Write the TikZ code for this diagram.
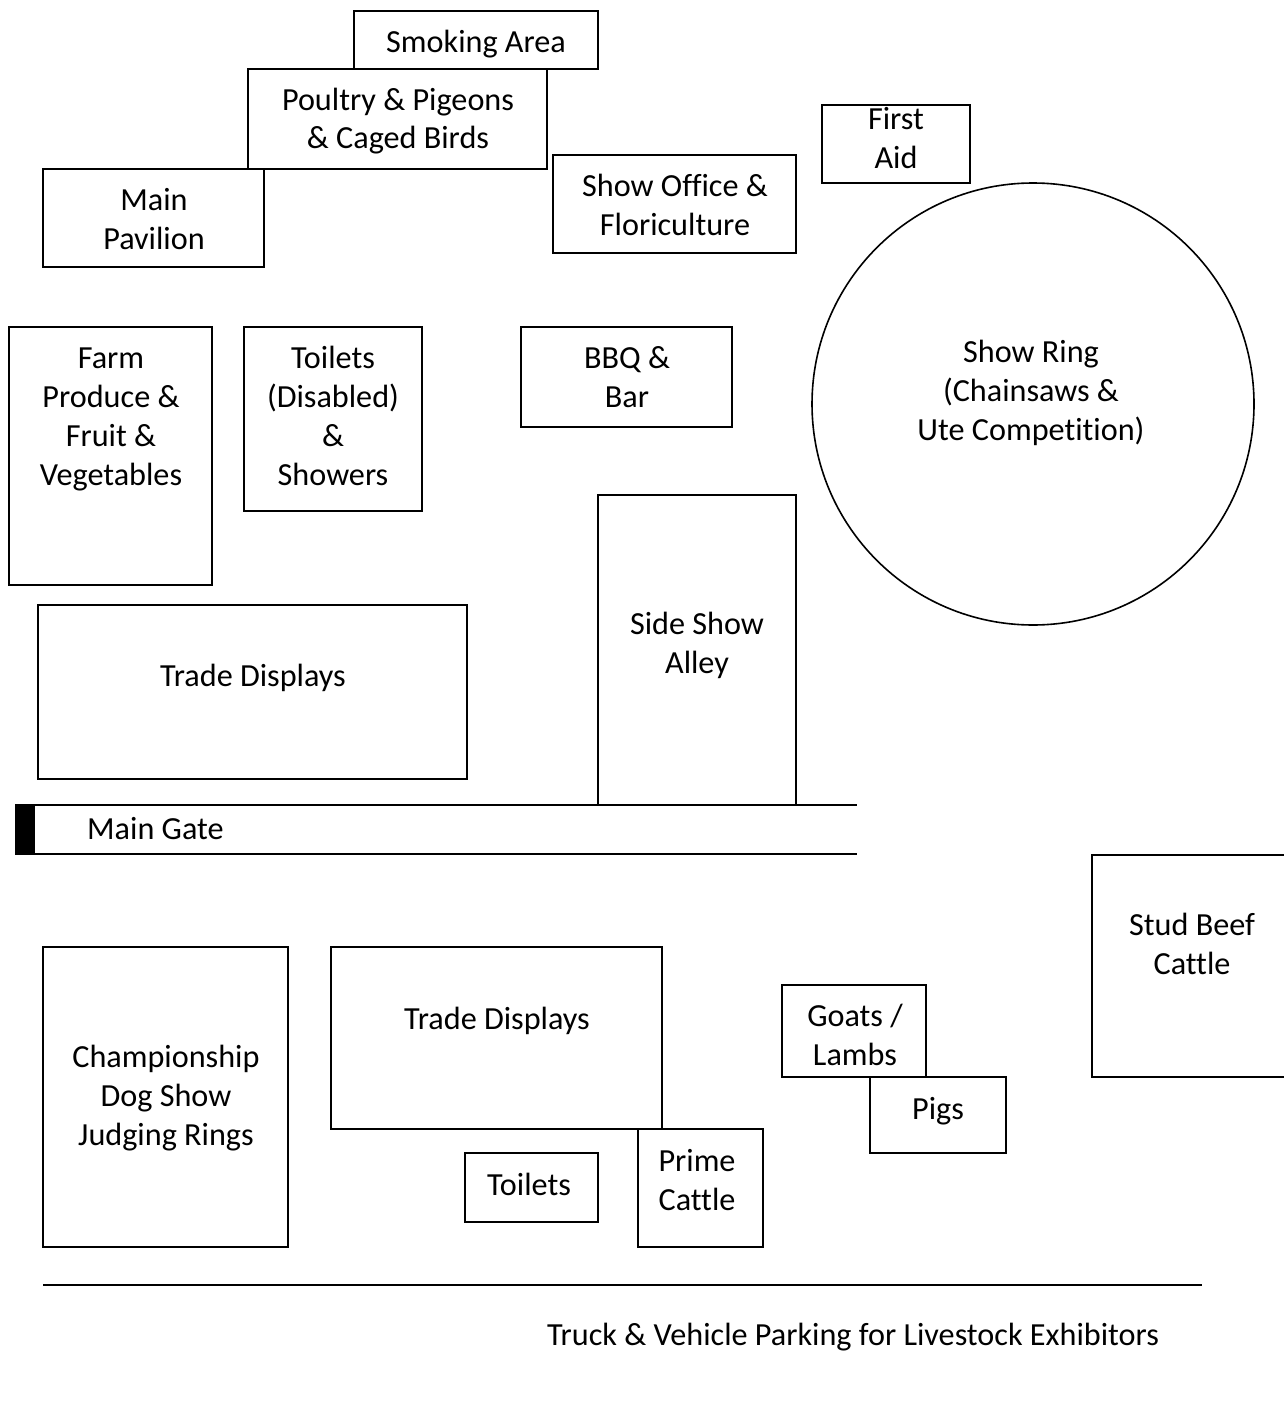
\documentclass[tikz,border=0pt]{standalone}
\usepackage{fontspec}
\setmainfont{Carlito}[Ligatures={NoCommon,NoRequired,NoContextual},RawFeature={-liga;-clig;-calt;-rlig}]
\begin{document}
\begin{tikzpicture}[x=1pt,y=-1pt,
  plot/.style={draw=black,fill=white,line width=1.6pt},
  lbl/.style={anchor=base,align=center,inner sep=0pt,font=\fontsize{32.2}{39}\selectfont},
  lbll/.style={anchor=base west,align=left,inner sep=0pt,font=\fontsize{32.2}{39}\selectfont}]
\useasboundingbox (0,0) rectangle (1284,1402);
% top area (label positions give the baseline of the last line)
\draw[plot] (354,11) rectangle (598,69);
\node[lbl] (smoke) at (476,53) {Smoking Area};
\draw[plot] (248,69) rectangle (547,169);
\node[lbl] (poultry) at (398,149) {Poultry \& Pigeons\\\& Caged Birds};
\draw[plot] (43,169) rectangle (264,267);
\node[lbl] (pavilion) at (154,249) {Main\\Pavilion};
\draw[plot] (553,155) rectangle (796,253);
\node[lbl] (office) at (675,235) {Show Office \&\\Floriculture};
\draw[plot] (822,105) rectangle (970,183);
\node[lbl] (aid) at (896,168) {First\\Aid};
\draw[plot] (1033,404) circle[radius=221];
\node[lbl] (ring) at (1031,440) {Show Ring\\(Chainsaws \&\\Ute Competition)};
\draw[plot] (9,327) rectangle (212,585);
\node[lbl] (farm) at (111,485) {Farm\\Produce \&\\Fruit \&\\Vegetables};
\draw[plot] (244,327) rectangle (422,511);
\node[lbl] (toiletsd) at (333,485) {Toilets\\(Disabled)\\\&\\Showers};
\draw[plot] (521,327) rectangle (732,427);
\node[lbl] (bbq) at (627,407) {BBQ \&\\Bar};
\draw[plot] (598,495) rectangle (796,805);
\node[lbl] (sideshow) at (697,673) {Side Show\\Alley};
\draw[plot,line width=1.2pt] (38,605) rectangle (467,779);
\node[lbl] (trade1) at (253,686) {Trade Displays};
% main gate
\fill[black] (15,804) rectangle (35,855);
\draw[line width=1.6pt] (35,805) -- (857,805);
\draw[line width=1.6pt] (35,854) -- (857,854);
\node[lbll] (gate) at (87,839) {Main Gate};
% lower area
\draw[plot] (1092,855) rectangle (1300,1077);
\node[lbl] (stud) at (1192,974) {Stud Beef\\Cattle};
\draw[plot] (43,947) rectangle (288,1247);
\node[lbl] (dog) at (166,1145) {Championship\\Dog Show\\Judging Rings};
\draw[plot] (331,947) rectangle (662,1129);
\node[lbl] (trade2) at (497,1029) {Trade Displays};
\draw[plot] (465,1153) rectangle (598,1222);
\node[lbl] (toilets) at (529,1195) {Toilets};
\draw[plot] (638,1129) rectangle (763,1247);
\node[lbl] (prime) at (697,1210) {Prime\\Cattle};
\draw[plot] (782,985) rectangle (926,1077);
\node[lbl] (goats) at (855,1065) {Goats /\\Lambs};
\draw[plot] (870,1077) rectangle (1006,1153);
\node[lbl] (pigs) at (938,1119) {Pigs};
\draw[line width=1.2pt] (43,1285) -- (1202,1285);
\node[lbl] (parking) at (853,1345) {Truck \& Vehicle Parking for Livestock Exhibitors};
\end{tikzpicture}
\end{document}
